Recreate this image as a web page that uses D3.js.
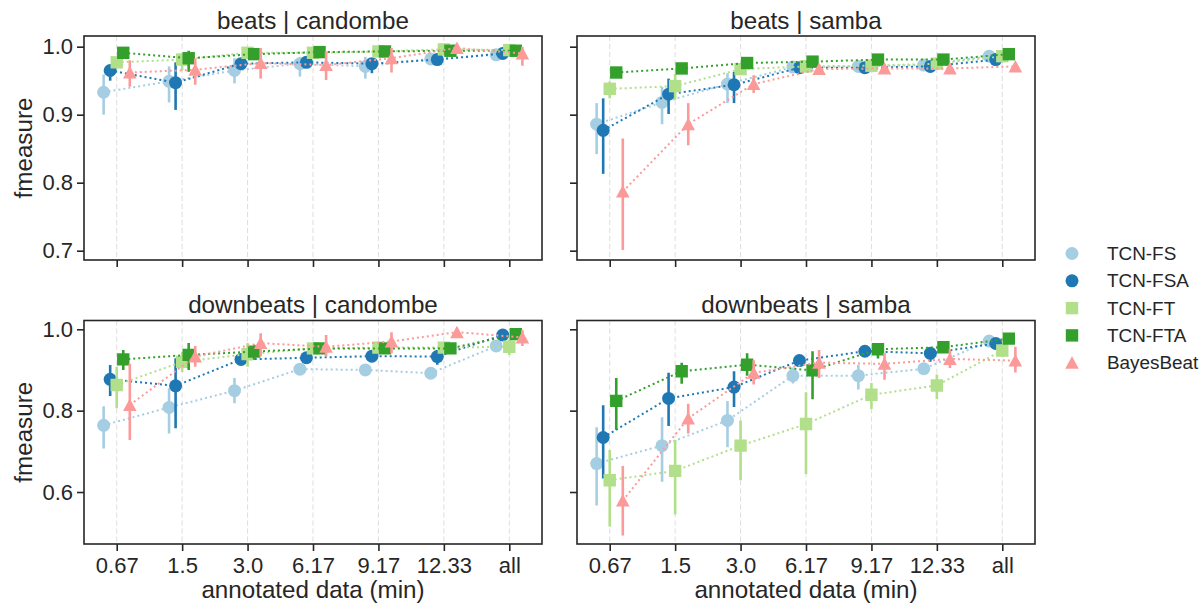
<!DOCTYPE html>
<html lang="en">
<head>
<meta charset="UTF-8">
<title>fmeasure vs annotated data</title>
<script src="https://cdn.jsdelivr.net/npm/d3@7"></script>
<style>
    body { margin: 0; background: #fff; }
    svg { font-family: "Liberation Sans", Arial, sans-serif; }
    .axis path, .axis line { stroke: #262626; stroke-width: 1.6; }
    .axis text { fill: #262626; font-size: 22px; }
</style>
</head>
<body>
<div id="chart"></div>
<script>
// categories on the x axis (annotated minutes)
var categories = ["0.67", "1.5", "3.0", "6.17", "9.17", "12.33", "all"];
var seriesNames = ["TCN-FS", "TCN-FSA", "TCN-FT", "TCN-FTA", "BayesBeat"];
var seriesColors = ["#a6cee3", "#1f78b4", "#b2df8a", "#33a02c", "#fb9a99"];
var seriesMarkers = ["circle", "circle", "square", "square", "triangle"];

// beats | candombe  (rows = series, cols = categories)
var beatsCandombeMean = [
    [0.933, 0.949, 0.965, 0.975, 0.971, 0.982, 0.988],
    [0.965, 0.947, 0.975, 0.977, 0.975, 0.981, 0.990],
    [0.977, 0.981, 0.991, 0.991, 0.993, 0.996, 0.995],
    [0.991, 0.983, 0.989, 0.992, 0.993, 0.994, 0.994],
    [0.962, 0.966, 0.976, 0.973, 0.983, 0.998, 0.990]
];
var beatsCandombeLo = [
    [0.900, 0.918, 0.946, 0.956, 0.953, 0.978, 0.984],
    [0.950, 0.907, 0.969, 0.969, 0.961, 0.977, 0.987],
    [0.970, 0.965, 0.986, 0.987, 0.990, 0.993, 0.992],
    [0.986, 0.963, 0.985, 0.988, 0.990, 0.991, 0.991],
    [0.941, 0.944, 0.953, 0.951, 0.962, 0.994, 0.972]
];
var beatsCandombeHi = [
    [0.959, 0.971, 0.983, 0.985, 0.985, 0.986, 0.992],
    [0.973, 0.977, 0.981, 0.983, 0.983, 0.985, 0.993],
    [0.983, 0.990, 0.995, 0.995, 0.996, 0.999, 0.998],
    [0.995, 0.994, 0.993, 0.996, 0.996, 0.997, 0.997],
    [0.980, 0.983, 0.998, 0.993, 0.998, 1.000, 1.000]
];

// beats | samba
var beatsSambaMean = [
    [0.886, 0.918, 0.945, 0.970, 0.971, 0.973, 0.986],
    [0.877, 0.930, 0.944, 0.969, 0.969, 0.971, 0.981],
    [0.938, 0.942, 0.967, 0.971, 0.972, 0.975, 0.986],
    [0.962, 0.968, 0.976, 0.978, 0.981, 0.981, 0.989],
    [0.787, 0.886, 0.945, 0.967, 0.968, 0.968, 0.971]
];
var beatsSambaLo = [
    [0.842, 0.886, 0.917, 0.964, 0.966, 0.968, 0.982],
    [0.813, 0.901, 0.917, 0.964, 0.964, 0.966, 0.977],
    [0.924, 0.922, 0.959, 0.966, 0.967, 0.970, 0.982],
    [0.958, 0.964, 0.972, 0.974, 0.977, 0.977, 0.986],
    [0.701, 0.855, 0.932, 0.962, 0.963, 0.963, 0.967]
];
var beatsSambaHi = [
    [0.917, 0.941, 0.961, 0.975, 0.976, 0.978, 0.990],
    [0.924, 0.953, 0.963, 0.974, 0.974, 0.976, 0.985],
    [0.949, 0.960, 0.975, 0.976, 0.977, 0.980, 0.990],
    [0.966, 0.972, 0.980, 0.982, 0.985, 0.985, 0.992],
    [0.865, 0.917, 0.958, 0.972, 0.973, 0.973, 0.975]
];

// downbeats | candombe
var downCandombeMean = [
    [0.764, 0.808, 0.849, 0.902, 0.900, 0.892, 0.959],
    [0.877, 0.861, 0.926, 0.930, 0.934, 0.933, 0.986],
    [0.863, 0.920, 0.939, 0.953, 0.955, 0.955, 0.957],
    [0.926, 0.937, 0.945, 0.953, 0.953, 0.953, 0.988],
    [0.814, 0.933, 0.966, 0.957, 0.970, 0.993, 0.980]
];
var downCandombeLo = [
    [0.707, 0.744, 0.818, 0.895, 0.893, 0.885, 0.945],
    [0.836, 0.757, 0.915, 0.923, 0.920, 0.913, 0.980],
    [0.806, 0.895, 0.908, 0.945, 0.947, 0.947, 0.937],
    [0.900, 0.900, 0.925, 0.945, 0.945, 0.945, 0.982],
    [0.728, 0.908, 0.933, 0.933, 0.941, 0.987, 0.959]
];
var downCandombeHi = [
    [0.811, 0.855, 0.880, 0.909, 0.907, 0.899, 0.970],
    [0.912, 0.929, 0.937, 0.937, 0.948, 0.949, 0.992],
    [0.908, 0.945, 0.966, 0.961, 0.963, 0.963, 0.975],
    [0.949, 0.966, 0.962, 0.961, 0.961, 0.961, 0.994],
    [0.915, 0.959, 0.990, 0.986, 0.993, 0.998, 0.998]
];

// downbeats | samba
var downSambaMean = [
    [0.670, 0.714, 0.776, 0.886, 0.886, 0.903, 0.971],
    [0.734, 0.830, 0.858, 0.923, 0.946, 0.941, 0.965],
    [0.629, 0.652, 0.714, 0.767, 0.839, 0.862, 0.948],
    [0.824, 0.897, 0.913, 0.899, 0.951, 0.956, 0.977],
    [0.579, 0.781, 0.893, 0.918, 0.915, 0.927, 0.923]
];
var downSambaLo = [
    [0.567, 0.625, 0.710, 0.867, 0.852, 0.893, 0.964],
    [0.633, 0.762, 0.809, 0.915, 0.938, 0.920, 0.958],
    [0.515, 0.545, 0.629, 0.644, 0.804, 0.828, 0.932],
    [0.753, 0.866, 0.886, 0.828, 0.928, 0.948, 0.971],
    [0.493, 0.744, 0.864, 0.880, 0.876, 0.905, 0.894]
];
var downSambaHi = [
    [0.759, 0.784, 0.824, 0.906, 0.913, 0.912, 0.977],
    [0.813, 0.893, 0.897, 0.931, 0.953, 0.955, 0.971],
    [0.703, 0.728, 0.776, 0.845, 0.868, 0.889, 0.963],
    [0.880, 0.918, 0.941, 0.946, 0.964, 0.964, 0.983],
    [0.664, 0.817, 0.924, 0.949, 0.942, 0.951, 0.957]
];

var topTicks = [0.7, 0.8, 0.9, 1.0];
var bottomTicks = [0.6, 0.8, 1.0];

var width = 1200, height = 606;
var svg = d3.select("#chart").append("svg")
    .attr("width", width)
    .attr("height", height);

// panel boxes
var colX = [[84, 542], [577, 1035]];
var rowY = [[36, 260], [320.5, 544]];
var rowDomain = [[0.6863, 1.0157], [0.4722, 1.0216]];
var rowTicks = [topTicks, bottomTicks];

var panels = [
    {title: "beats | candombe", row: 0, col: 0, mean: beatsCandombeMean, lo: beatsCandombeLo, hi: beatsCandombeHi},
    {title: "beats | samba", row: 0, col: 1, mean: beatsSambaMean, lo: beatsSambaLo, hi: beatsSambaHi},
    {title: "downbeats | candombe", row: 1, col: 0, mean: downCandombeMean, lo: downCandombeLo, hi: downCandombeHi},
    {title: "downbeats | samba", row: 1, col: 1, mean: downSambaMean, lo: downSambaLo, hi: downSambaHi}
];

function markerPath(type) {
    if (type === "triangle") {
        return "M0,-6.5 L6.8,6 L-6.8,6 Z";
    }
    if (type === "square") {
        return "M-6.2,-6.2 H6.2 V6.2 H-6.2 Z";
    }
    return d3.symbol().type(d3.symbolCircle).size(Math.PI * 6.5 * 6.5)();
}

panels.forEach(function(p) {
    var x0 = colX[p.col][0], x1 = colX[p.col][1];
    var y0 = rowY[p.row][0], y1 = rowY[p.row][1];

    var x = d3.scalePoint().domain(categories).range([x0, x1]).padding(0.5);
    var y = d3.scaleLinear().domain(rowDomain[p.row]).range([y1, y0]);
    var dodge = x.step() * 0.1;

    var g = svg.append("g");

    // dashed vertical grid
    g.append("g").selectAll("line")
        .data(categories)
        .enter().append("line")
        .attr("x1", function(d) { return x(d); })
        .attr("x2", function(d) { return x(d); })
        .attr("y1", y0).attr("y2", y1)
        .attr("stroke", "#dddddd")
        .attr("stroke-width", 1)
        .attr("stroke-dasharray", "5,3");

    var clipId = "clip" + p.row + p.col;
    svg.append("clipPath").attr("id", clipId)
        .append("rect")
        .attr("x", x0).attr("y", y0)
        .attr("width", x1 - x0).attr("height", y1 - y0);

    var plot = g.append("g").attr("clip-path", "url(#" + clipId + ")");

    seriesNames.forEach(function(name, s) {
        var off = (s - 2) * dodge;
        var color = seriesColors[s];
        var pts = categories.map(function(c, i) {
            return {cat: c, v: p.mean[s][i], lo: p.lo[s][i], hi: p.hi[s][i]};
        });

        // error bars
        plot.append("g").selectAll("line")
            .data(pts)
            .enter().append("line")
            .attr("x1", function(d) { return x(d.cat) + off; })
            .attr("x2", function(d) { return x(d.cat) + off; })
            .attr("y1", function(d) { return y(d.lo); })
            .attr("y2", function(d) { return y(d.hi); })
            .attr("stroke", color)
            .attr("stroke-width", 2.6);

        // dotted connecting line
        var line = d3.line()
            .x(function(d) { return x(d.cat) + off; })
            .y(function(d) { return y(d.v); });
        plot.append("path")
            .datum(pts)
            .attr("d", line)
            .attr("fill", "none")
            .attr("stroke", color)
            .attr("stroke-width", 2)
            .attr("stroke-dasharray", "2,3");

        // markers
        plot.append("g").selectAll("path")
            .data(pts)
            .enter().append("path")
            .attr("d", markerPath(seriesMarkers[s]))
            .attr("transform", function(d) { return "translate(" + (x(d.cat) + off) + "," + y(d.v) + ")"; })
            .attr("fill", color);
    });

    // frame
    g.append("rect")
        .attr("x", x0).attr("y", y0)
        .attr("width", x1 - x0).attr("height", y1 - y0)
        .attr("fill", "none")
        .attr("stroke", "#262626")
        .attr("stroke-width", 1.6);

    // axes
    var yAxis = d3.axisLeft(y).tickValues(rowTicks[p.row]).tickSize(7).tickPadding(4)
        .tickFormat(p.col === 0 ? d3.format(".1f") : "");
    g.append("g").attr("class", "axis")
        .attr("transform", "translate(" + x0 + ",0)")
        .call(yAxis)
        .call(function(a) { a.select(".domain").remove(); });

    var xAxis = d3.axisBottom(x).tickSize(7).tickPadding(6)
        .tickFormat(p.row === 1 ? null : "");
    g.append("g").attr("class", "axis")
        .attr("transform", "translate(0," + y1 + ")")
        .call(xAxis)
        .call(function(a) { a.select(".domain").remove(); });

    // title
    g.append("text")
        .attr("x", (x0 + x1) / 2)
        .attr("y", y0 - 7.5)
        .attr("text-anchor", "middle")
        .attr("fill", "#262626")
        .style("font-size", "24.2px")
        .text(p.title);

    if (p.col === 0) {
        g.append("text")
            .attr("transform", "translate(32," + ((y0 + y1) / 2) + ") rotate(-90)")
            .attr("text-anchor", "middle")
            .attr("fill", "#262626")
            .style("font-size", "24.2px")
            .text("fmeasure");
    }
    if (p.row === 1) {
        g.append("text")
            .attr("x", (x0 + x1) / 2)
            .attr("y", 598)
            .attr("text-anchor", "middle")
            .attr("fill", "#262626")
            .style("font-size", "24.2px")
            .text("annotated data (min)");
    }
});

// legend
var legend = svg.append("g").attr("transform", "translate(1072,253.5)");
var items = legend.selectAll("g")
    .data(seriesNames)
    .enter().append("g")
    .attr("transform", function(d, i) { return "translate(0," + (i * 27.3) + ")"; });
items.append("path")
    .attr("d", function(d, i) { return markerPath(seriesMarkers[i]); })
    .attr("fill", function(d, i) { return seriesColors[i]; });
items.append("text")
    .attr("x", 35)
    .attr("y", 6.6)
    .attr("fill", "#262626")
    .style("font-size", "18.9px")
    .text(function(d) { return d; });
</script>
</body>
</html>
